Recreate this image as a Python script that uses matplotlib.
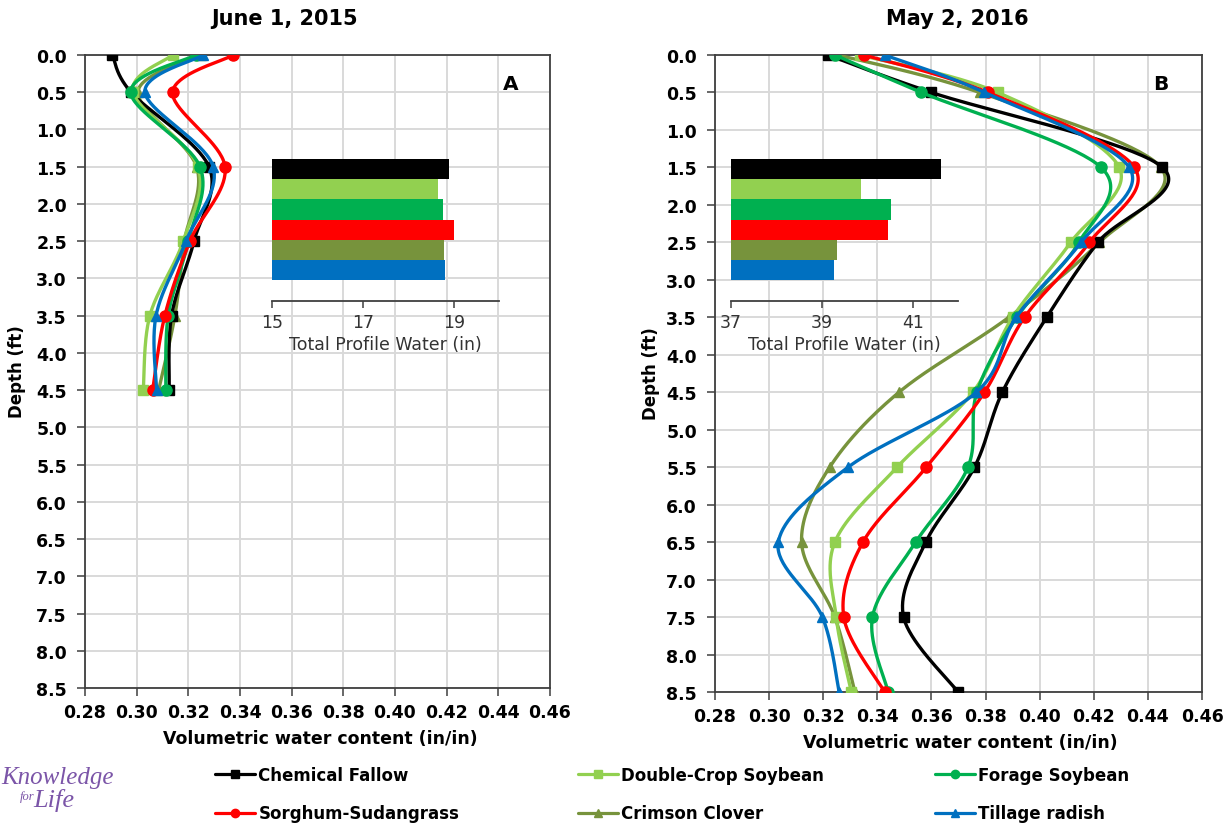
import numpy as np
import matplotlib
matplotlib.use("Agg")
import matplotlib.pyplot as plt

# ---- data ---------------------------------------------------------------
treatments = ["Chemical Fallow", "Double-Crop Soybean", "Forage Soybean",
              "Sorghum-Sudangrass", "Crimson Clover", "Tillage radish"]
colors = ["#000000", "#92D050", "#00B050", "#FF0000", "#77933C", "#0070C0"]
markers = ["s", "s", "o", "o", "^", "^"]

depth_2015 = [0.0, 0.5, 1.5, 2.5, 3.5, 4.5]
vwc_2015 = {
    "Chemical Fallow":     [0.2906, 0.2978, 0.3280, 0.3222, 0.3135, 0.3126],
    "Double-Crop Soybean": [0.3139, 0.2986, 0.3237, 0.3180, 0.3051, 0.3026],
    "Forage Soybean":      [0.3229, 0.2977, 0.3245, 0.3200, 0.3122, 0.3113],
    "Sorghum-Sudangrass":  [0.3374, 0.3139, 0.3342, 0.3206, 0.3109, 0.3062],
    "Crimson Clover":      [0.3250, 0.3005, 0.3232, 0.3185, 0.3148, 0.3085],
    "Tillage radish":      [0.3258, 0.3032, 0.3296, 0.3191, 0.3075, 0.3077],
}

depth_2016 = [0.0, 0.5, 1.5, 2.5, 3.5, 4.5, 5.5, 6.5, 7.5, 8.5]
vwc_2016 = {
    "Chemical Fallow":     [0.3218, 0.3600, 0.4454, 0.4215, 0.4026, 0.3862, 0.3759, 0.3579, 0.3497, 0.3698],
    "Double-Crop Soybean": [0.3335, 0.3845, 0.4294, 0.4115, 0.3900, 0.3753, 0.3473, 0.3243, 0.3248, 0.3304],
    "Forage Soybean":      [0.3243, 0.3563, 0.4227, 0.4145, 0.3915, 0.3768, 0.3735, 0.3542, 0.3382, 0.3440],
    "Sorghum-Sudangrass":  [0.3351, 0.3809, 0.4350, 0.4184, 0.3944, 0.3796, 0.3581, 0.3347, 0.3276, 0.3427],
    "Crimson Clover":      [0.3255, 0.3778, 0.4448, 0.4221, 0.3886, 0.3480, 0.3224, 0.3120, 0.3243, 0.3317],
    "Tillage radish":      [0.3427, 0.3796, 0.4331, 0.4153, 0.3913, 0.3766, 0.3292, 0.3034, 0.3197, 0.3259],
}

total_2015 = [18.89, 18.65, 18.76, 19.01, 18.78, 18.80]
total_2016 = [41.62, 39.85, 40.52, 40.45, 39.33, 39.26]

x_ticks = [0.28, 0.30, 0.32, 0.34, 0.36, 0.38, 0.40, 0.42, 0.44, 0.46]
y_ticks = [0.0, 0.5, 1.0, 1.5, 2.0, 2.5, 3.0, 3.5, 4.0, 4.5, 5.0, 5.5, 6.0,
           6.5, 7.0, 7.5, 8.0, 8.5]
inset_ticks_2015 = [15, 17, 19]
inset_ticks_2016 = [37, 39, 41]

# draw order of the profile lines (bottom to top)
z_order = {"Crimson Clover": 3, "Chemical Fallow": 4, "Double-Crop Soybean": 5,
           "Forage Soybean": 6, "Sorghum-Sudangrass": 7, "Tillage radish": 8}

W, H = 1231, 828
fig = plt.figure(figsize=(W / 100, H / 100), dpi=100)
fig.patch.set_facecolor("white")


def fx(px):
    return px / W


def fy(py):
    return 1 - py / H


def box(x0, y0, x1, y1):
    return [fx(x0), fy(y1), fx(x1) - fx(x0), fy(y0) - fy(y1)]


def smooth(x, y, n=40):
    """Cubic Bezier smoothing through every point (Catmull-Rom tangents)."""
    P = np.column_stack([x, y]).astype(float)
    m = len(P)
    out = []
    t = np.linspace(0, 1, n)[:, None]
    for i in range(m - 1):
        p0 = P[i - 1] if i > 0 else P[i]
        p1, p2 = P[i], P[i + 1]
        p3 = P[i + 2] if i + 2 < m else P[i + 1]
        c1 = p1 + (p2 - p0) / 6
        c2 = p2 - (p3 - p1) / 6
        seg = ((1 - t) ** 3) * p1 + 3 * ((1 - t) ** 2) * t * c1 \
            + 3 * (1 - t) * t ** 2 * c2 + t ** 3 * p2
        out.append(seg if i == 0 else seg[1:])
    pts = np.vstack(out)
    return pts[:, 0], pts[:, 1], [k * (n - 1) for k in range(m)]


SPINE = "#3f3f3f"
GRID = "#d9d9d9"


def profile_axes(rect, depths, data, letter):
    ax = fig.add_axes(rect)
    for name, col, mk in zip(treatments, colors, markers):
        xs, ys, idx = smooth(data[name], depths)
        ax.plot(xs, ys, color=col, lw=2.4, marker=mk, markevery=idx,
                ms=7.5 if mk != "o" else 8, mfc=col, mec=col,
                zorder=z_order[name], label=name, solid_capstyle="round")
    ax.set_xlim(0.28, 0.46)
    ax.set_ylim(8.5, 0.0)
    ax.set_xticks(x_ticks)
    ax.set_xticklabels([f"{v:.2f}" for v in x_ticks])
    ax.set_yticks(y_ticks)
    ax.set_yticklabels([f"{v:.1f}" for v in y_ticks])
    ax.grid(True, color=GRID, lw=1.4)
    ax.set_axisbelow(True)
    for s in ax.spines.values():
        s.set_color(SPINE)
        s.set_linewidth(1.3)
    ax.tick_params(direction="out", length=6, width=1.1, color=SPINE,
                   labelsize=12.5, pad=5)
    ax.tick_params(axis="y", pad=7)
    for lab in ax.get_xticklabels() + ax.get_yticklabels():
        lab.set_fontweight("bold")
    ax.text(0.915, 0.955, letter, transform=ax.transAxes, fontsize=14.5,
            fontweight="bold", ha="center", va="center")
    return ax


def inset_axes(rect, totals, lo, ticks):
    ax = fig.add_axes(rect)
    ax.patch.set_alpha(0)
    cats = np.arange(len(treatments))
    ax.barh(cats, [v - lo for v in totals], left=lo, height=1.0,
            color=colors, edgecolor="none")
    ax.set_xlim(lo, lo + 5)
    ax.set_ylim(6.5, -0.5)
    ax.set_yticks([])
    for side in ("left", "right", "top"):
        ax.spines[side].set_visible(False)
    ax.spines["bottom"].set_color(SPINE)
    ax.spines["bottom"].set_linewidth(1.3)
    ax.set_xticks(ticks)
    ax.tick_params(axis="x", direction="out", length=5, width=1.1,
                   color=SPINE, labelsize=12.5, labelcolor="#333333", pad=4)
    ax.set_xlabel("Total Profile Water (in)", fontsize=12.5, color="#333333",
                  labelpad=3)
    return ax


ax1 = profile_axes(box(85, 56, 550, 689), depth_2015, vwc_2015, "A")
ax2 = profile_axes(box(715, 56, 1202, 693), depth_2016, vwc_2016, "B")

inset_axes(box(271.7, 160, 499.3, 301.7), total_2015, 15, inset_ticks_2015)
inset_axes(box(731, 160, 958.3, 301.7), total_2016, 37, inset_ticks_2016)

# titles and axis labels
fig.text(fx(285), fy(19), "June 1, 2015", fontsize=15, fontweight="bold",
         ha="center", va="center")
fig.text(fx(957), fy(19), "May 2, 2016", fontsize=15, fontweight="bold",
         ha="center", va="center")
for xc, yc in ((320, 739), (960, 743)):
    fig.text(fx(xc), fy(yc), "Volumetric water content (in/in)",
             fontsize=12.5, fontweight="bold", ha="center", va="center")
for xc, yc in ((17, 372), (651, 374)):
    fig.text(fx(xc), fy(yc), "Depth (ft)", fontsize=12, fontweight="bold",
             rotation=90, ha="center", va="center")

# legend: three columns of two entries
handles, labels = ax2.get_legend_handles_labels()
lookup = dict(zip(labels, handles))
columns = [(215, ["Chemical Fallow", "Sorghum-Sudangrass"]),
           (578, ["Double-Crop Soybean", "Crimson Clover"]),
           (935, ["Forage Soybean", "Tillage radish"])]
for xpos, names in columns:
    leg = fig.legend([lookup[n] for n in names], names,
                     loc="center left", bbox_to_anchor=(fx(xpos), fy(795)),
                     frameon=False, borderpad=0, borderaxespad=0,
                     handlelength=2.4, handletextpad=0.2, labelspacing=1.25,
                     prop={"size": 12, "weight": "bold"})
    for line in leg.get_lines():
        line.set_markersize(6)
        line.set_linewidth(2.3)

# logo text
PURPLE = "#7b55a8"
fig.text(fx(1), fy(778), "Knowledge", fontsize=18, family="Liberation Serif",
         style="italic", color=PURPLE, ha="left", va="center")
fig.text(fx(20), fy(797), "for", fontsize=9, family="Liberation Serif",
         style="italic", color=PURPLE, ha="left", va="center")
fig.text(fx(33), fy(801), "Life", fontsize=19, family="Liberation Serif",
         style="italic", color=PURPLE, ha="left", va="center")

fig.savefig("out.png", dpi=100)
